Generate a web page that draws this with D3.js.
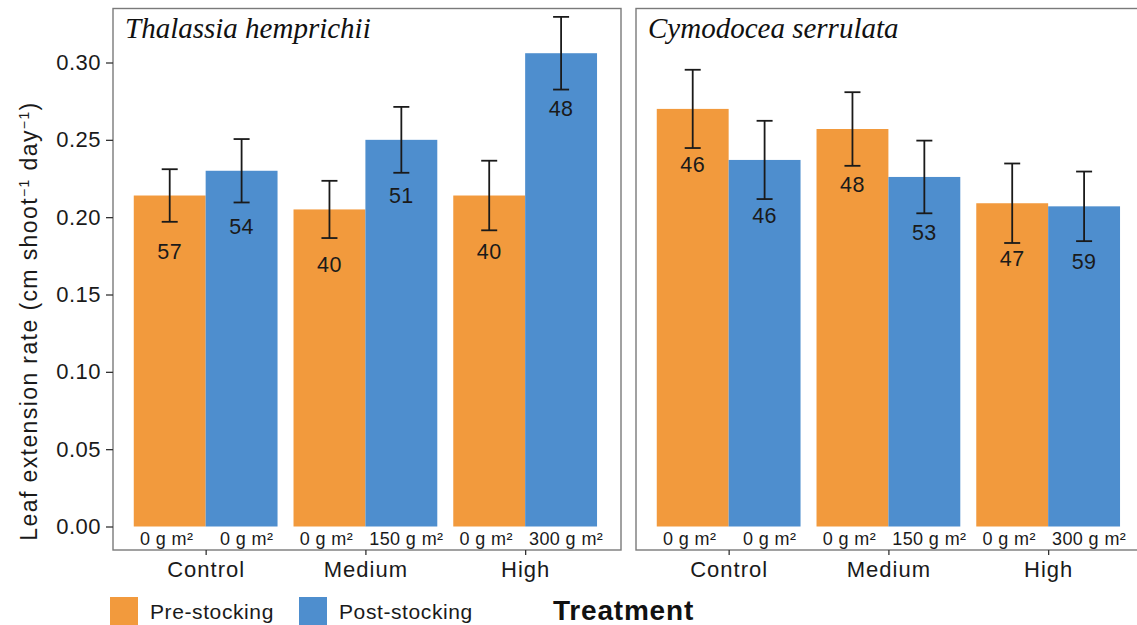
<!DOCTYPE html>
<html>
<head>
<meta charset="utf-8">
<title>Leaf extension rate</title>
<script src="https://cdn.jsdelivr.net/npm/d3@7/dist/d3.min.js"></script>
<style>
  body { margin: 0; background: #fff; }
  text { font-family: "Liberation Sans", Arial, sans-serif; }
</style>
</head>
<body>
<svg id="chart" width="1137" height="625"></svg>
<script>
// data
var groups = ["Control", "Medium", "High"];
var seriesNames = ["Pre-stocking", "Post-stocking"];
var species = ["Thalassia hemprichii", "Cymodocea serrulata"];

var thalPre = [0.214, 0.205, 0.214];
var thalPreSE = [0.017, 0.0185, 0.0225];
var thalPost = [0.230, 0.250, 0.306];
var thalPostSE = [0.0205, 0.0213, 0.0235];
var thalPreN = [57, 40, 40];
var thalPostN = [54, 51, 48];

var cymoPre = [0.270, 0.257, 0.209];
var cymoPreSE = [0.0253, 0.0238, 0.0257];
var cymoPost = [0.237, 0.226, 0.207];
var cymoPostSE = [0.0253, 0.0235, 0.0225];
var cymoPreN = [46, 48, 47];
var cymoPostN = [46, 53, 59];

var preDose = ["0 g m\u00B2", "0 g m\u00B2", "0 g m\u00B2"];
var postDose = ["0 g m\u00B2", "150 g m\u00B2", "300 g m\u00B2"];

var yTicks = [0, 0.05, 0.10, 0.15, 0.20, 0.25, 0.30];

var colors = ["#F29A3D", "#4E8ECE"];

var svg = d3.select("#chart");

var panelTop = 8.5, panelBottom = 550, panelW = 508;
var panelX = [113, 636];

var y = d3.scaleLinear().domain([0, 0.30]).range([526.5, 62.5]);
// category index scale (ggplot style expansion)
var x = d3.scaleLinear().domain([0.42, 3.6]).range([0, panelW]);
var unit = x(1) - x(0);
var barW = unit * 0.45;

function buildRows(pre, preSE, preN, post, postSE, postN) {
  var rows = [];
  groups.forEach(function(g, i) {
    rows.push({ g: i, s: 0, v: pre[i], se: preSE[i], n: preN[i], dose: preDose[i] });
    rows.push({ g: i, s: 1, v: post[i], se: postSE[i], n: postN[i], dose: postDose[i] });
  });
  return rows;
}

var panels = [
  buildRows(thalPre, thalPreSE, thalPreN, thalPost, thalPostSE, thalPostN),
  buildRows(cymoPre, cymoPreSE, cymoPreN, cymoPost, cymoPostSE, cymoPostN)
];

panels.forEach(function(rows, p) {
  var gp = svg.append("g").attr("transform", "translate(" + panelX[p] + ",0)");

  function bx(d) { return x(d.g + 1) + (d.s === 0 ? -barW : 0); }
  function cx(d) { return bx(d) + barW / 2; }

  gp.selectAll("rect.bar").data(rows).enter().append("rect")
    .attr("class", "bar")
    .attr("x", bx)
    .attr("width", barW)
    .attr("y", function(d) { return y(d.v); })
    .attr("height", function(d) { return y(0) - y(d.v); })
    .attr("fill", function(d) { return colors[d.s]; });

  // error bars
  var eb = gp.selectAll("g.err").data(rows).enter().append("g")
    .attr("stroke", "#1a1a1a").attr("stroke-width", 1.8).attr("fill", "none");
  eb.append("line")
    .attr("x1", cx).attr("x2", cx)
    .attr("y1", function(d) { return y(d.v + d.se); })
    .attr("y2", function(d) { return y(d.v - d.se); });
  eb.append("line")
    .attr("x1", function(d) { return cx(d) - 8; }).attr("x2", function(d) { return cx(d) + 8; })
    .attr("y1", function(d) { return y(d.v + d.se); })
    .attr("y2", function(d) { return y(d.v + d.se); });
  eb.append("line")
    .attr("x1", function(d) { return cx(d) - 8; }).attr("x2", function(d) { return cx(d) + 8; })
    .attr("y1", function(d) { return y(d.v - d.se); })
    .attr("y2", function(d) { return y(d.v - d.se); });

  // sample sizes
  gp.selectAll("text.n").data(rows).enter().append("text")
    .attr("x", cx)
    .attr("y", function(d) { return y(d.v) + 63; })
    .attr("text-anchor", "middle")
    .attr("font-size", 21.5)
    .attr("letter-spacing", 0.5)
    .attr("fill", "#1a1a1a")
    .text(function(d) { return d.n; });

  // dose labels
  gp.selectAll("text.dose").data(rows).enter().append("text")
    .attr("x", function(d) { return cx(d) + (d.s === 0 ? -3 : 5); })
    .attr("y", 545)
    .attr("text-anchor", "middle")
    .attr("font-size", 18)
    .attr("letter-spacing", 0.4)
    .attr("fill", "#1a1a1a")
    .text(function(d) { return d.dose; });

  // panel border
  gp.append("rect")
    .attr("x", 0).attr("y", panelTop)
    .attr("width", panelW).attr("height", panelBottom - panelTop)
    .attr("fill", "none").attr("stroke", "#7a7a7a").attr("stroke-width", 1.4);

  // panel title
  gp.append("text")
    .attr("x", 12).attr("y", 38)
    .style("font-family", "'Liberation Serif', 'Times New Roman', serif")
    .style("font-style", "italic")
    .attr("font-size", 29)
    .attr("fill", "#111")
    .text(species[p]);

  // x axis
  var xa = gp.append("g").attr("transform", "translate(0," + panelBottom + ")")
    .call(d3.axisBottom(x).tickValues([1, 2, 3]).tickSize(5).tickPadding(6)
      .tickFormat(function(d) { return groups[d - 1]; }));
  xa.select(".domain").remove();
  xa.selectAll(".tick line").attr("stroke", "#333").attr("stroke-width", 1.3);
  xa.selectAll(".tick text").attr("font-size", 22).attr("letter-spacing", 1).attr("fill", "#1a1a1a")
    .style("font-family", "'Liberation Sans', Arial, sans-serif");

  if (p === 0) {
    var ya = gp.append("g")
      .call(d3.axisLeft(y).tickValues(yTicks).tickSize(7).tickPadding(5).tickFormat(d3.format(".2f")));
    ya.select(".domain").remove();
    ya.selectAll(".tick line").attr("stroke", "#333").attr("stroke-width", 1.3);
    ya.selectAll(".tick text").attr("font-size", 22).attr("letter-spacing", 0.5).attr("fill", "#1a1a1a")
      .style("font-family", "'Liberation Sans', Arial, sans-serif");
  }
});

// y axis title
var yt = svg.append("text")
  .attr("transform", "translate(37,321) rotate(-90)")
  .attr("text-anchor", "middle")
  .attr("font-size", 23)
  .attr("letter-spacing", 1.4)
  .attr("fill", "#1a1a1a");
yt.append("tspan").text("Leaf extension rate (cm shoot");
yt.append("tspan").attr("baseline-shift", "super").attr("font-size", 14).text("\u22121");
yt.append("tspan").text(" day");
yt.append("tspan").attr("baseline-shift", "super").attr("font-size", 14).text("\u22121");
yt.append("tspan").text(")");

// legend
var legX = [110, 299];
var lg = svg.selectAll("g.leg").data(seriesNames).enter().append("g")
  .attr("transform", function(d, i) { return "translate(" + legX[i] + ",597)"; });
lg.append("rect").attr("width", 28).attr("height", 28)
  .attr("fill", function(d, i) { return colors[i]; });
lg.append("text").attr("x", 40).attr("y", 22)
  .attr("font-size", 21).attr("letter-spacing", 0.6).attr("fill", "#1a1a1a")
  .text(function(d) { return d; });

// x axis title
svg.append("text")
  .attr("x", 553).attr("y", 620)
  .attr("font-size", 28).attr("font-weight", "bold").attr("letter-spacing", 0.8).attr("fill", "#111")
  .text("Treatment");
</script>
</body>
</html>
